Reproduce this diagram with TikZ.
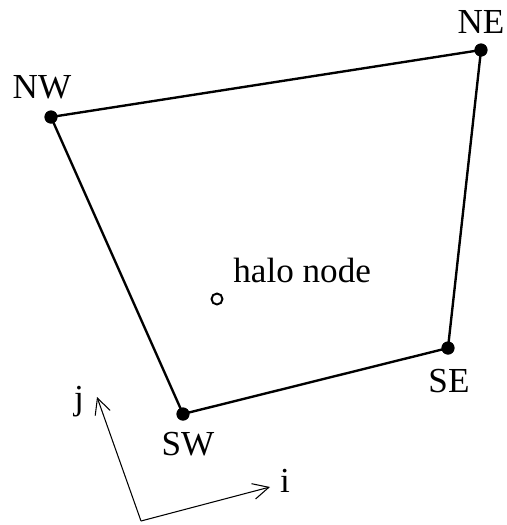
\documentclass[tikz,border=0pt]{standalone}
\usepackage{fontspec}
\setmainfont{Liberation Serif}
\usetikzlibrary{arrows.meta,positioning}

\tikzset{
  vertex/.style={circle, fill=black, inner sep=0pt, minimum size=0.26cm},
  halo/.style={circle, draw=black, line width=1.1pt, fill=white, inner sep=0pt, minimum size=0.22cm},
  lbl/.style={anchor=base, inner sep=0pt, font=\fontsize{20}{24}\selectfont},
  edge/.style={line width=1.35pt},
  axis/.style={line width=0.6pt, -{Straight Barb[length=9pt,width=9pt]}}
}

\begin{document}
\begin{tikzpicture}[x=0.02cm, y=-0.02cm]
        \useasboundingbox (0,0) rectangle (507,525);

        % Ecken der Zelle
        \node[vertex] (NW) at (51,117) {};
        \node[vertex] (NE) at (481,50) {};
        \node[vertex] (SE) at (448,348) {};
        \node[vertex] (SW) at (183,414) {};

        % Rand der Zelle
        \draw[edge] (NW.center) -- (NE.center) -- (SE.center) -- (SW.center) -- cycle;
        \foreach \v in {NW,NE,SE,SW} \node[vertex] at (\v) {};

        % Beschriftungen
        \node[lbl] (tNW) at (42,98) {NW};
        \node[lbl] (tNE) at (481,33) {NE};
        \node[lbl] (tSE) at (449,392) {SE};
        \node[lbl] (tSW) at (188,455) {SW};

        % Halo-Knoten
        \node[halo] (H) at (217,299) {};
        \node[lbl, anchor=base west] (tH) at (233,282) {halo node};

        % Achsen i, j
        \coordinate (O) at (141,521);
        \coordinate (itip) at (270,487);
        \coordinate (jtip) at (97,397);
        \draw[axis] (O) -- (itip);
        \draw[axis] (O) -- (jtip);
        \node[lbl] (ti) at (285,492) {i};
        \node[lbl] (tj) at (79,409) {j};
\end{tikzpicture}
\end{document}
